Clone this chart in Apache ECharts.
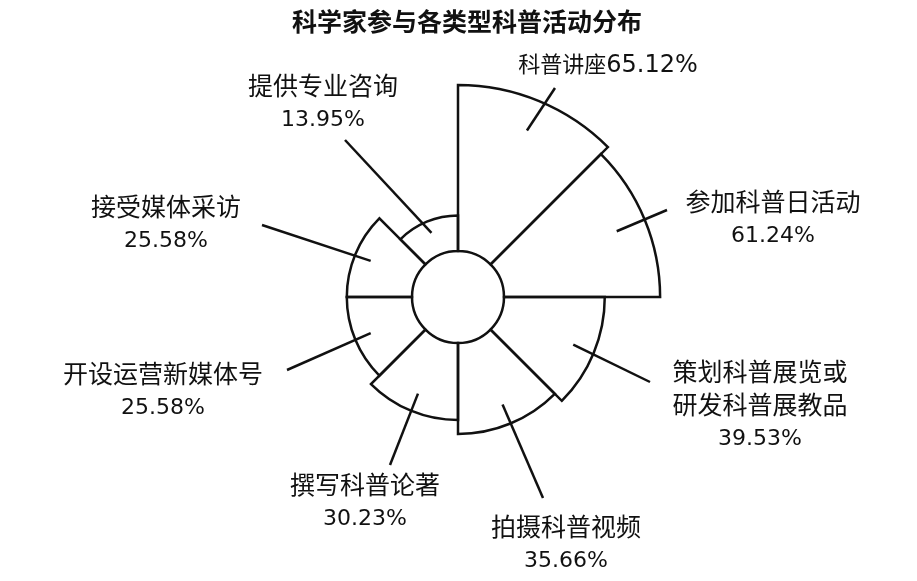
<!DOCTYPE html>
<html><head><meta charset="utf-8">
<script src="https://cdn.jsdelivr.net/npm/echarts@6/dist/echarts.min.js"></script>
<style>html,body{margin:0;padding:0;background:#fff}#c{width:917px;height:581px}</style>
</head><body><div id="c"></div>
<script>
const title = '科学家参与各类型科普活动分布';
const categories = ['科普讲座', '参加科普日活动', '策划科普展览或\n研发科普展教品', '拍摄科普视频', '撰写科普论著', '开设运营新媒体号', '接受媒体采访', '提供专业咨询'];
const values = [65.12, 61.24, 39.53, 35.66, 30.23, 25.58, 25.58, 13.95];

// layout only (label anchor positions and leader-line end points)
const labelPos = [[608, 66], [773, 220], [760, 406], [566, 545], [365, 503], [163, 392], [166, 225], [323, 104]];
const lineEnd = [[555, 88], [667, 210], [650, 382], [543, 498], [390, 465], [287, 370], [262, 225], [345, 140]];
const CX = 458, CY = 297;

const FONT = "'DejaVu Sans', 'Noto Sans CJK SC', sans-serif";
const chart = echarts.init(document.getElementById('c'), null, {renderer: 'canvas'});
chart.setOption({
  animation: false,
  backgroundColor: '#fff',
  title: {
    text: title, left: 462, top: 7, textAlign: 'center',
    textStyle: {fontSize: 25, fontWeight: 'bold', color: '#111', fontFamily: FONT}
  },
  series: [{
    type: 'pie',
    roseType: 'area',
    center: [CX, CY],
    radius: [46, 212],
    startAngle: 90,
    clockwise: true,
    silent: true,
    avoidLabelOverlap: false,
    emphasis: {disabled: true},
    itemStyle: {color: 'rgba(255,255,255,0)', borderColor: '#111', borderWidth: 2.5, borderJoin: 'miter'},
    data: categories.map((n, i) => ({name: n, value: values[i]})),
    label: {
      show: true,
      position: 'outside',
      color: '#111',
      fontFamily: FONT,
      formatter: p => p.dataIndex === 0
        ? '{a|' + p.name + '}{b|' + p.value.toFixed(2) + '%}'
        : '{n|' + p.name + '}\n{v|' + p.value.toFixed(2) + '%}',
      rich: {
        a: {fontSize: 22, fontFamily: FONT, color: '#111', lineHeight: 30},
        b: {fontSize: 24, fontFamily: FONT, color: '#111', lineHeight: 30},
        n: {fontSize: 25, fontFamily: FONT, color: '#111', lineHeight: 33},
        v: {fontSize: 22, fontFamily: FONT, color: '#111', lineHeight: 31}
      }
    },
    labelLine: {show: true, lineStyle: {color: '#111', width: 2.5}},
    labelLayout: function (params) {
      const i = params.dataIndex;
      const p0 = params.labelLinePoints ? params.labelLinePoints[0] : [CX, CY];
      const start = [CX + (p0[0] - CX) * 0.85, CY + (p0[1] - CY) * 0.85];
      return {
        x: labelPos[i][0], y: labelPos[i][1],
        align: 'center', verticalAlign: 'middle',
        labelLinePoints: [start, lineEnd[i]]
      };
    }
  }]
});
</script>
</body></html>
